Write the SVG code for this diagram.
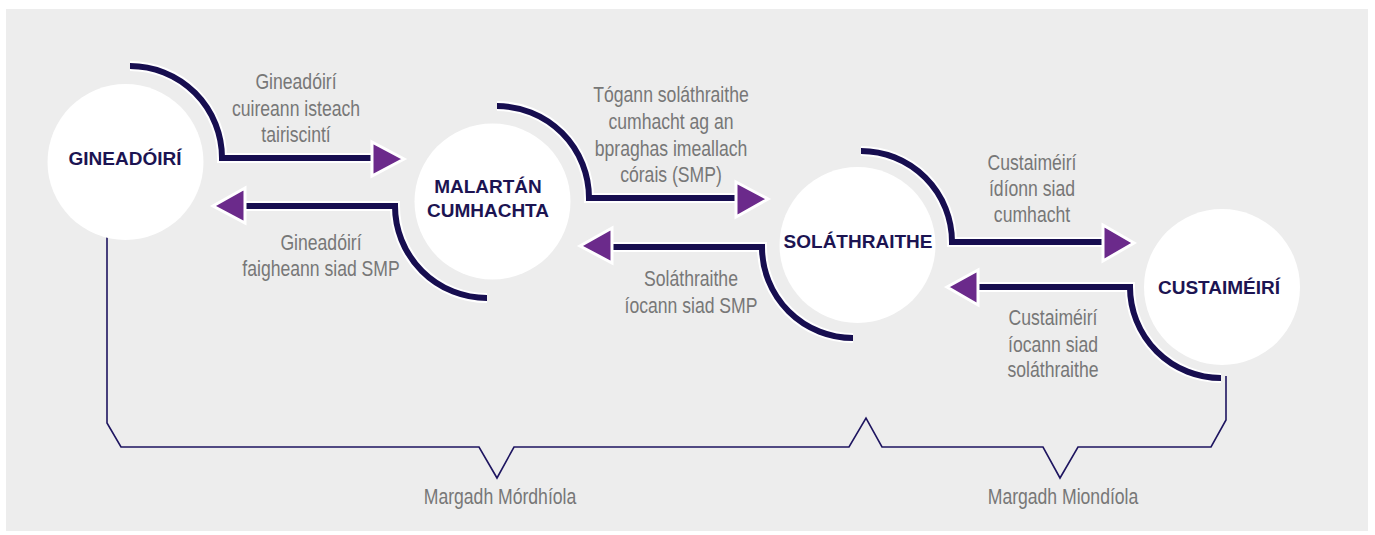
<svg xmlns="http://www.w3.org/2000/svg" width="1375" height="535" viewBox="0 0 1375 535">
<style>
.halo{fill:none;stroke:#ffffff;stroke-width:10}
.flow{fill:none;stroke:#170e50;stroke-width:6}
.head{fill:#6b2a8b;stroke:#ffffff;stroke-width:3;stroke-linejoin:miter}
.brk{fill:none;stroke:#1e1560;stroke-width:1.6;stroke-linejoin:miter}
.circ{fill:#ffffff}
.nt{font-family:"Liberation Sans",Arial,sans-serif;font-weight:bold;font-size:19px;fill:#1c1452;text-anchor:middle}
.lbl{font-family:"Liberation Sans",Arial,sans-serif;font-size:22px;fill:#777777;text-anchor:middle}
</style>
<rect x="0" y="0" width="1375" height="535" fill="#ffffff"/>
<rect x="6" y="9" width="1362" height="522" fill="#ededed"/>

<g id="connectors">
  <path class="brk" d="M107 230 L107 423 L121 447 L479 447 L497 478 L514 447 L849 447 L866 418 L882 447 L1043 447 L1060 478 L1078 447 L1211 447 L1226 420 L1226 376"/>

  <path class="halo" d="M130 66 A92 92 0 0 1 222 158 L372 158"/>
  <path class="flow" d="M130 66 A92 92 0 0 1 222 158 L372 158"/>
  <polygon class="head" points="372,142 404,159 372,176"/>

  <path class="halo" d="M487 298 A92 92 0 0 1 395 206 L246 206"/>
  <path class="flow" d="M487 298 A92 92 0 0 1 395 206 L246 206"/>
  <polygon class="head" points="245,188 213,206 245,223"/>

  <path class="halo" d="M497 106 A92 92 0 0 1 589 198 L736 198"/>
  <path class="flow" d="M497 106 A92 92 0 0 1 589 198 L736 198"/>
  <polygon class="head" points="736,182 768,199 736,217"/>

  <path class="halo" d="M853 338 A91 91 0 0 1 762 247 L613 247"/>
  <path class="flow" d="M853 338 A91 91 0 0 1 762 247 L613 247"/>
  <polygon class="head" points="612,228 580,246 612,263"/>

  <path class="halo" d="M861 151 A91 91 0 0 1 952 242 L1103 242"/>
  <path class="flow" d="M861 151 A91 91 0 0 1 952 242 L1103 242"/>
  <polygon class="head" points="1103,225 1134,243 1103,261"/>

  <path class="halo" d="M1221 378 A91 91 0 0 1 1130 287 L979 287"/>
  <path class="flow" d="M1221 378 A91 91 0 0 1 1130 287 L979 287"/>
  <polygon class="head" points="978,270 947,287 978,305"/>
</g>

<g id="labels">
  <g transform="translate(296 0) scale(0.8 1)">
    <text class="lbl" x="0" y="89">Gineadóirí</text>
    <text class="lbl" x="0" y="116">cuireann isteach</text>
    <text class="lbl" x="0" y="142">tairiscintí</text>
  </g>
  <g transform="translate(321 0) scale(0.8 1)">
    <text class="lbl" x="0" y="250">Gineadóirí</text>
    <text class="lbl" x="0" y="276">faigheann siad SMP</text>
  </g>
  <g transform="translate(671 0) scale(0.8 1)">
    <text class="lbl" x="0" y="102">Tógann soláthraithe</text>
    <text class="lbl" x="0" y="129">cumhacht ag an</text>
    <text class="lbl" x="0" y="156">bpraghas imeallach</text>
    <text class="lbl" x="0" y="182">córais (SMP)</text>
  </g>
  <g transform="translate(691 0) scale(0.8 1)">
    <text class="lbl" x="0" y="286">Soláthraithe</text>
    <text class="lbl" x="0" y="313">íocann siad SMP</text>
  </g>
  <g transform="translate(1032 0) scale(0.8 1)">
    <text class="lbl" x="0" y="170">Custaiméirí</text>
    <text class="lbl" x="0" y="196">ídíonn siad</text>
    <text class="lbl" x="0" y="222">cumhacht</text>
  </g>
  <g transform="translate(1053 0) scale(0.8 1)">
    <text class="lbl" x="0" y="325">Custaiméirí</text>
    <text class="lbl" x="0" y="352">íocann siad</text>
    <text class="lbl" x="0" y="377">soláthraithe</text>
  </g>
  <g transform="translate(500 0) scale(0.8 1)">
    <text class="lbl" x="0" y="504">Margadh Mórdhíola</text>
  </g>
  <g transform="translate(1063 0) scale(0.8 1)">
    <text class="lbl" x="0" y="504">Margadh Miondíola</text>
  </g>
</g>

<g id="node-gineadoiri">
  <circle class="circ" cx="125.5" cy="162" r="78"/>
  <text class="nt" x="125" y="165">GINEADÓIRÍ</text>
</g>
<g id="node-malartan-cumhachta">
  <circle class="circ" cx="492.5" cy="201.5" r="78"/>
  <text class="nt" x="488" y="193">MALARTÁN</text>
  <text class="nt" x="488" y="217">CUMHACHTA</text>
</g>
<g id="node-solathraithe">
  <circle class="circ" cx="857.5" cy="245" r="78"/>
  <text class="nt" x="858" y="248">SOLÁTHRAITHE</text>
</g>
<g id="node-custaimeiri">
  <circle class="circ" cx="1222" cy="287" r="78"/>
  <text class="nt" x="1219" y="294">CUSTAIMÉIRÍ</text>
</g>
</svg>
